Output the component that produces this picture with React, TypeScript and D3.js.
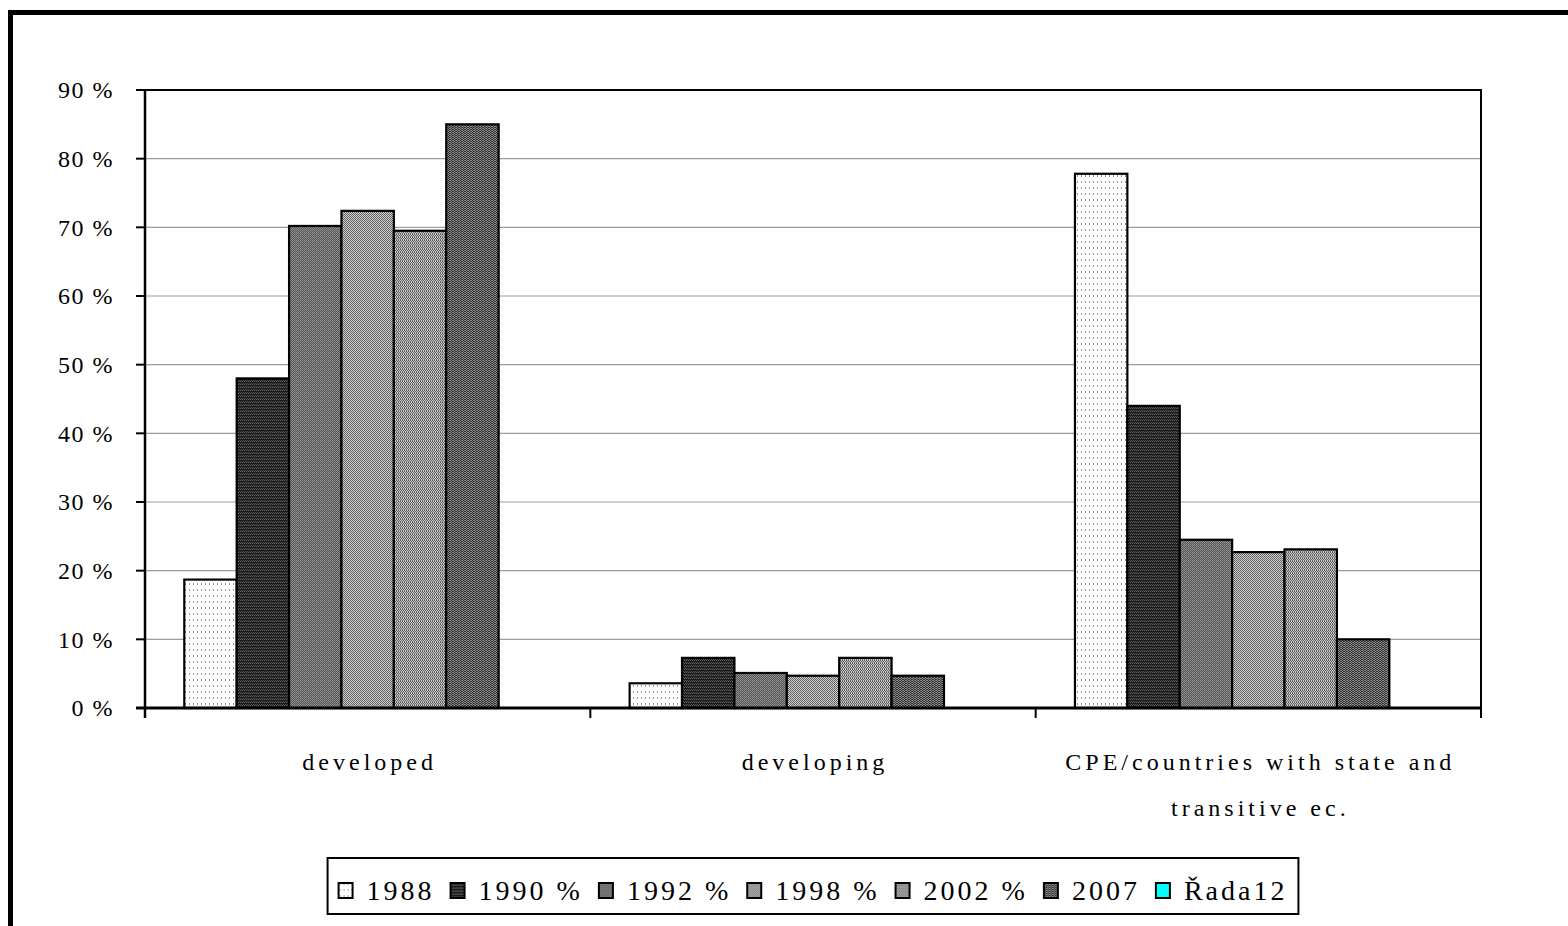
import { useRef, useEffect } from 'react';
import * as d3 from 'd3';

const W = 1568;
const H = 926;

const CATEGORIES = ['developed', 'developing', 'CPE/countries with state and transitive ec.'];
const CATEGORY_LINES = [['developed'], ['developing'], ['CPE/countries with state and', 'transitive ec.']];
const SERIES = ['1988', '1990 %', '1992 %', '1998 %', '2002 %', '2007', 'Řada12'];

const V1988 = [18.7, 3.6, 77.8];
const V1990 = [48.0, 7.3, 44.0];
const V1992 = [70.2, 5.1, 24.5];
const V1998 = [72.4, 4.7, 22.7];
const V2002 = [69.5, 7.3, 23.1];
const V2007 = [85.0, 4.7, 10.0];
const VRADA12: (number | null)[] = [null, null, null];

const Y_TICKS = [0, 10, 20, 30, 40, 50, 60, 70, 80, 90];

const FONT = '"Liberation Serif", "DejaVu Serif", serif';

export default function App() {
  const svgRef = useRef<SVGSVGElement>(null);

  useEffect(() => {
    const svg = svgRef.current;
    if (!svg) return;
    const root = d3.select(svg);
    root.selectAll('*').remove();

    const values = [V1988, V1990, V1992, V1998, V2002, V2007, VRADA12];
    const plot = { left: 145, right: 1481, top: 90, bottom: 708 };

    // Fill patterns
    const defs = root.append('defs');
    const mkPattern = (id: string, w: number, h: number, bg: string, cells: [number, number, number, number, string][]) => {
      const p = defs.append('pattern')
        .attr('id', id)
        .attr('patternUnits', 'userSpaceOnUse')
        .attr('width', w)
        .attr('height', h);
      p.append('rect').attr('width', w).attr('height', h).attr('fill', bg);
      cells.forEach(([x, y, cw, ch, c]) => {
        p.append('rect').attr('x', x).attr('y', y).attr('width', cw).attr('height', ch)
          .attr('fill', c).attr('shape-rendering', 'crispEdges');
      });
    };
    mkPattern('p0', 4, 6, '#ffffff', [[1, 1, 1, 2, '#9a9a9a']]);
    mkPattern('p1', 2, 3, '#1a1a1a', [[0, 0, 1, 1, '#6a6a6a'], [1, 2, 1, 1, '#505050']]);
    mkPattern('p2', 2, 2, '#555555', [[0, 0, 1, 1, '#999999'], [1, 1, 1, 1, '#888888']]);
    mkPattern('p3', 2, 2, '#d2d2d2', [[0, 0, 1, 1, '#5a5a5a'], [1, 1, 1, 1, '#666666']]);
    mkPattern('p4', 2, 3, '#c8c8c8', [[0, 0, 1, 1, '#555555'], [1, 1, 1, 1, '#606060'], [0, 2, 1, 1, '#6a6a6a']]);
    mkPattern('p5', 3, 2, '#303030', [[0, 0, 1, 1, '#999999'], [2, 0, 1, 1, '#7a7a7a'], [1, 1, 1, 1, '#8a8a8a']]);
    const fills = ['url(#p0)', 'url(#p1)', 'url(#p2)', 'url(#p3)', 'url(#p4)', 'url(#p5)', '#00ffff'];

    // Outer frame
    root.append('rect')
      .attr('x', 10.5).attr('y', 12.5)
      .attr('width', W + 20).attr('height', H + 20)
      .attr('fill', 'none').attr('stroke', '#000').attr('stroke-width', 5);

    const x0 = d3.scaleBand<number>()
      .domain(CATEGORIES.map((_, i) => i))
      .range([plot.left, plot.right])
      .paddingInner(0).paddingOuter(0);
    const x1 = d3.scaleBand<number>()
      .domain(SERIES.map((_, i) => i))
      .range([0, x0.bandwidth()])
      .paddingInner(0).paddingOuter(0.75);
    const y = d3.scaleLinear().domain([0, 90]).range([plot.bottom, plot.top]);

    // Gridlines
    root.append('g').selectAll('line')
      .data(Y_TICKS.filter((t) => t > 0 && t < 90))
      .join('line')
      .attr('x1', plot.left).attr('x2', plot.right)
      .attr('y1', (d) => y(d)).attr('y2', (d) => y(d))
      .attr('stroke', '#9c9c9c').attr('stroke-width', 1.2);

    // Plot border top/right
    root.append('path')
      .attr('d', `M${plot.left},${y(90)}H${plot.right}V${plot.bottom}`)
      .attr('fill', 'none').attr('stroke', '#000').attr('stroke-width', 2);

    // Bars
    values.forEach((vals, si) => {
      vals.forEach((v, ci) => {
        if (v === null) return;
        root.append('rect')
          .attr('x', (x0(ci) ?? 0) + (x1(si) ?? 0))
          .attr('y', y(v))
          .attr('width', x1.bandwidth())
          .attr('height', y(0) - y(v))
          .attr('fill', fills[si])
          .attr('stroke', '#000')
          .attr('stroke-width', 2.2);
      });
    });

    // Y axis
    const yAxis = root.append('g');
    yAxis.append('line')
      .attr('x1', plot.left).attr('x2', plot.left)
      .attr('y1', plot.top).attr('y2', plot.bottom + 10)
      .attr('stroke', '#000').attr('stroke-width', 2.5);
    yAxis.selectAll('.tick')
      .data(Y_TICKS)
      .join('line')
      .attr('x1', plot.left - 9).attr('x2', plot.left)
      .attr('y1', (d) => y(d)).attr('y2', (d) => y(d))
      .attr('stroke', '#000').attr('stroke-width', 2);
    yAxis.selectAll('text')
      .data(Y_TICKS)
      .join('text')
      .attr('x', 114)
      .attr('y', (d) => y(d))
      .attr('dy', '0.35em')
      .attr('text-anchor', 'end')
      .attr('font-family', FONT)
      .attr('font-size', 24)
      .attr('letter-spacing', 1.5)
      .attr('fill', '#000')
      .text((d) => `${d} %`);

    // X axis
    const xAxis = root.append('g');
    xAxis.append('line')
      .attr('x1', plot.left - 9).attr('x2', plot.right)
      .attr('y1', plot.bottom).attr('y2', plot.bottom)
      .attr('stroke', '#000').attr('stroke-width', 3);
    const boundaries = [...CATEGORIES.map((_, i) => x0(i) ?? 0), plot.right];
    xAxis.selectAll('.tick')
      .data(boundaries)
      .join('line')
      .attr('x1', (d) => d).attr('x2', (d) => d)
      .attr('y1', plot.bottom).attr('y2', plot.bottom + 10)
      .attr('stroke', '#000').attr('stroke-width', 2);
    CATEGORY_LINES.forEach((lines, ci) => {
      const cx = (x0(ci) ?? 0) + x0.bandwidth() / 2;
      lines.forEach((ln, li) => {
        xAxis.append('text')
          .attr('x', cx + 2)
          .attr('y', 770 + li * 46)
          .attr('text-anchor', 'middle')
          .attr('font-family', FONT)
          .attr('font-size', 24)
          .attr('letter-spacing', 4)
          .attr('fill', '#000')
          .text(ln);
      });
    });

    // Legend
    const legend = root.append('g');
    const box = legend.append('rect')
      .attr('fill', '#fff').attr('stroke', '#000').attr('stroke-width', 2);
    const items = legend.append('g');
    let cursor = 0;
    SERIES.forEach((name, si) => {
      items.append('rect')
        .attr('x', cursor).attr('y', -17)
        .attr('width', 14).attr('height', 15)
        .attr('fill', fills[si]).attr('stroke', '#000').attr('stroke-width', 2);
      const t = items.append('text')
        .attr('x', cursor + 28).attr('y', 0)
        .attr('font-family', FONT)
        .attr('font-size', 28)
        .attr('letter-spacing', 3)
        .attr('fill', '#000')
        .text(name);
      const tw = (t.node() as SVGTextElement).getComputedTextLength();
      cursor += 28 + tw + 16;
    });
    const total = cursor - 16;
    const cx = (plot.left + plot.right) / 2;
    const lx = cx - total / 2;
    items.attr('transform', `translate(${lx},900)`);
    box.attr('x', lx - 11).attr('y', 858).attr('width', total + 22).attr('height', 56);
  }, []);

  return (
    <svg
      ref={svgRef}
      width={W}
      height={H}
      viewBox={`0 0 ${W} ${H}`}
      style={{ position: 'absolute', left: 0, top: 0, background: '#fff' }}
    />
  );
}
